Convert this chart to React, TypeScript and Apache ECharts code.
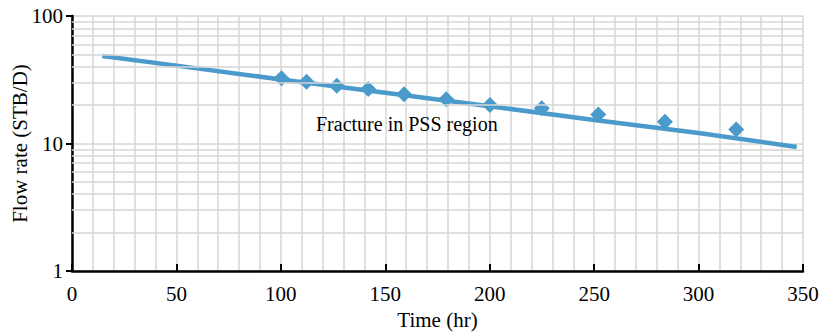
import React, { useEffect, useRef } from "react";
import * as echarts from "echarts";

// Measured rate points (time hr, rate STB/D)
const obsTime = [100.3, 112.3, 126.8, 141.8, 159.0, 179.2, 200.1, 224.9, 252.0, 283.9, 318.0];
const obsRate = [32.5, 30.5, 28.4, 26.8, 24.3, 22.2, 20.0, 18.9, 16.9, 14.8, 12.9];

// Model line (time hr, rate STB/D)
const fitTime = [14.5, 50, 100, 150, 200, 250, 300, 347];
const fitRate = [48.6, 40.8, 31.8, 25.0, 19.6, 15.3, 12.1, 9.4];

// Log-grid minor lines
const minorY = [2, 3, 4, 5, 6, 7, 8, 9, 20, 30, 40, 50, 60, 70, 80, 90];

const xTicks = { min: 0, max: 350, interval: 50 };
const annotation = "Fracture in PSS region";

const FONT = "'Times New Roman', 'Liberation Serif', 'DejaVu Serif', serif";
const GRID = "#d6d6d6";
const BLUE = "#4a9acb";

export default function App() {
  const ref = useRef<HTMLDivElement>(null);
  useEffect(() => {
    if (!ref.current) return;
    const chart = echarts.init(ref.current, undefined, { renderer: "svg" });
    chart.setOption({
      animation: false,
      backgroundColor: "#ffffff",
      textStyle: { fontFamily: FONT },
      grid: { left: 72, right: 20, top: 16, bottom: 65, containLabel: false, outerBoundsMode: "none" },
      xAxis: {
        type: "value",
        min: xTicks.min,
        max: xTicks.max,
        interval: xTicks.interval,
        name: "Time (hr)",
        nameLocation: "middle",
        nameGap: 38,
        nameTextStyle: { fontFamily: FONT, fontSize: 21, color: "#000" },
        axisLine: { onZero: false, lineStyle: { color: "#000", width: 2.5 } },
        axisTick: { show: true, inside: true, length: 7, lineStyle: { color: "#000", width: 2 } },
        axisLabel: { fontFamily: FONT, fontSize: 21, color: "#000", margin: 12 },
        splitLine: { show: true, lineStyle: { color: GRID, width: 1.5 } },
        minorTick: { show: false, splitNumber: 5 },
        minorSplitLine: { show: true, lineStyle: { color: GRID, width: 1.5 } },
      },
      yAxis: {
        type: "log",
        logBase: 10,
        min: 1,
        max: 100,
        name: "Flow rate (STB/D)",
        nameLocation: "middle",
        nameGap: 42,
        nameMoveOverlap: false,
        nameTextStyle: { fontFamily: FONT, fontSize: 21, color: "#000" },
        axisLine: { show: true, lineStyle: { color: "#000", width: 2.5 } },
        axisTick: { show: true, inside: false, length: 6, lineStyle: { color: "#000", width: 2 } },
        axisLabel: { fontFamily: FONT, fontSize: 21, color: "#000", margin: 9 },
        splitLine: { show: true, lineStyle: { color: GRID, width: 1.5 } },
      },
      graphic: [
        {
          type: "text",
          left: 316,
          top: 114,
          style: { text: annotation, fontFamily: FONT, fontSize: 20, fill: "#000" },
          z: 10,
        },
      ],
      series: [
        {
          type: "line",
          data: [],
          silent: true,
          z: 1,
          markLine: {
            silent: true,
            symbol: "none",
            label: { show: false },
            lineStyle: { color: GRID, width: 1.5, type: "solid" },
            data: minorY.map((v) => ({ yAxis: v })),
          },
        },
        {
          type: "line",
          data: fitTime.map((t, i) => [t, fitRate[i]]),
          showSymbol: false,
          symbol: "none",
          lineStyle: { color: BLUE, width: 4.5 },
          z: 3,
        },
        {
          type: "scatter",
          data: obsTime.map((t, i) => [t, obsRate[i]]),
          symbol: "diamond",
          symbolSize: 16,
          itemStyle: { color: BLUE, opacity: 1 },
          z: 4,
        },
      ],
    });
    return () => chart.dispose();
  }, []);
  return <div ref={ref} style={{ width: 823, height: 336, position: "absolute", left: 0, top: 0 }} />;
}
